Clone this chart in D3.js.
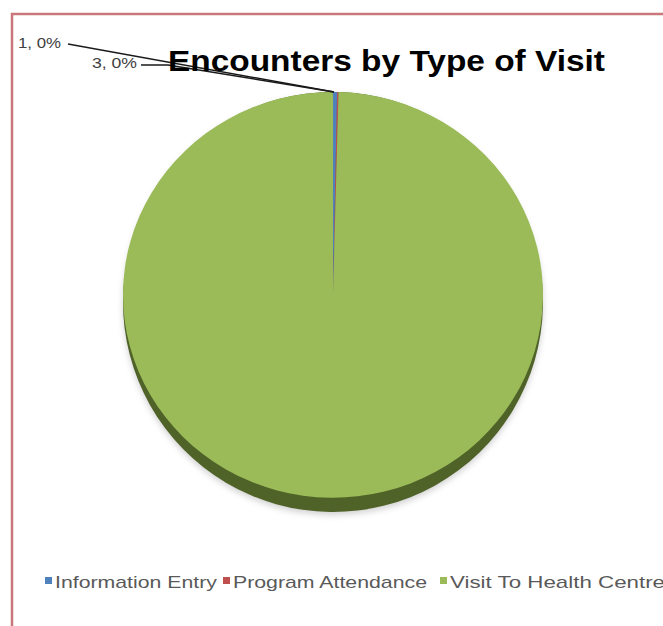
<!DOCTYPE html>
<html>
<head>
<meta charset="utf-8">
<script src="https://cdn.jsdelivr.net/npm/d3@7"></script>
<style>
  html, body { margin: 0; padding: 0; background: #fff; }
  svg { display: block; }
</style>
</head>
<body>
<svg id="chart" width="663" height="626"></svg>
<script>
// Encounter counts by visit type
const categories = ["Information Entry", "Program Attendance", "Visit To Health Centre"];
const values = [3, 1, 950];
const colors = ["#4f81bd", "#c0504d", "#9bbb59"];
const shadeColors = ["#2f4e74", "#7a302e", "#4f6228"];
const labelText = ["3, 0%", "1, 0%"];

const svg = d3.select("#chart");
const W = 663, H = 626;

// chart frame
svg.append("rect")
  .attr("x", 12).attr("y", 14)
  .attr("width", W + 20).attr("height", H + 20)
  .attr("fill", "#fff")
  .attr("stroke", "#c9777a").attr("stroke-width", 2.5);

const defs = svg.append("defs");
const blur = defs.append("filter").attr("id", "soft")
  .attr("x", "-20%").attr("y", "-20%").attr("width", "140%").attr("height", "140%");
blur.append("feGaussianBlur").attr("stdDeviation", 3);

const cx = 333, cy = 302, r = 210;
const pie = d3.pie().value(d => d).sort(null);
const arcs = pie(values);
const arc = d3.arc().innerRadius(0).outerRadius(r);

// soft drop shadow under the pie
svg.append("g")
  .attr("transform", `translate(${cx},${cy + 3})`)
  .attr("filter", "url(#soft)")
  .selectAll("path").data(arcs).join("path")
  .attr("d", arc)
  .attr("fill", "#000").attr("opacity", 0.18);

// darker rim (bevel)
svg.append("g")
  .attr("transform", `translate(${cx},${cy})`)
  .selectAll("path").data(arcs).join("path")
  .attr("d", arc)
  .attr("fill", (d, i) => shadeColors[i]);

// slice faces, slightly squashed so the rim shows at the bottom
const sy = 0.966;
svg.append("g")
  .attr("transform", `translate(${cx},${cy - r + r * sy}) scale(1,${sy})`)
  .selectAll("path").data(arcs).join("path")
  .attr("d", arc)
  .attr("fill", (d, i) => colors[i]);

// leader lines and labels for the tiny slices
const pieTop = [cx + 1, cy - r];
const leaders = [
  { text: labelText[1], tx: 18, ty: 48, w: 43, pts: [[68, 44], pieTop] },
  { text: labelText[0], tx: 92, ty: 68, w: 45, pts: [[141, 65], [168, 65], pieTop] }
];
const line = d3.line();
svg.append("g").selectAll("path").data(leaders).join("path")
  .attr("d", d => line(d.pts))
  .attr("fill", "none").attr("stroke", "#1a1a1a").attr("stroke-width", 1.4);

svg.append("g").selectAll("text").data(leaders).join("text")
  .attr("x", d => d.tx).attr("y", d => d.ty)
  .attr("font-family", "Liberation Sans, Arial, sans-serif")
  .attr("font-size", 14)
  .attr("textLength", d => d.w).attr("lengthAdjust", "spacingAndGlyphs")
  .attr("fill", "#404040")
  .text(d => d.text);

// title
svg.append("text")
  .attr("x", 168).attr("y", 71)
  .attr("font-family", "Liberation Sans, Arial, sans-serif")
  .attr("font-weight", "bold")
  .attr("font-size", 30)
  .attr("textLength", 437).attr("lengthAdjust", "spacingAndGlyphs")
  .attr("fill", "#000")
  .text("Encounters by Type of Visit");

// legend
const legendX = [45, 223, 440];
const legendW = [162, 194, 215];
const lg = svg.append("g").selectAll("g").data(categories).join("g")
  .attr("transform", (d, i) => `translate(${legendX[i]},582)`);
lg.append("rect")
  .attr("x", 0).attr("y", -5).attr("width", 7).attr("height", 7)
  .attr("fill", (d, i) => colors[i]);
lg.append("text")
  .attr("x", 10).attr("y", 6)
  .attr("font-family", "Liberation Sans, Arial, sans-serif")
  .attr("font-size", 17)
  .attr("textLength", (d, i) => legendW[i]).attr("lengthAdjust", "spacingAndGlyphs")
  .attr("fill", "#595959")
  .text(d => d);
</script>
</body>
</html>
